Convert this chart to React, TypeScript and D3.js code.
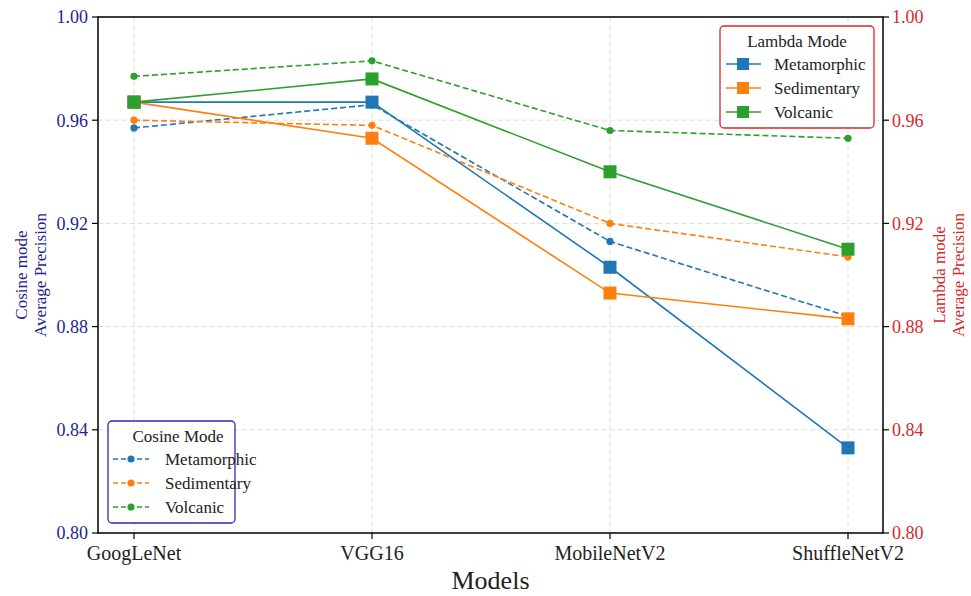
import React from "react";
import * as d3 from "d3";

const models = ["GoogLeNet", "VGG16", "MobileNetV2", "ShuffleNetV2"];
const seriesNames = ["Metamorphic", "Sedimentary", "Volcanic"];
const lambdaMetamorphic = [0.967, 0.967, 0.903, 0.833];
const lambdaSedimentary = [0.967, 0.953, 0.893, 0.883];
const lambdaVolcanic = [0.967, 0.976, 0.94, 0.91];
const cosineMetamorphic = [0.957, 0.966, 0.913, 0.884];
const cosineSedimentary = [0.96, 0.958, 0.92, 0.907];
const cosineVolcanic = [0.977, 0.983, 0.956, 0.953];
const yTicks = [0.8, 0.84, 0.88, 0.92, 0.96, 1.0];

const colors = ["#1f77b4", "#ff7f0e", "#2ca02c"];
const lambdaData = [lambdaMetamorphic, lambdaSedimentary, lambdaVolcanic];
const cosineData = [cosineMetamorphic, cosineSedimentary, cosineVolcanic];

const W = 971, H = 596;
const M = { left: 98, right: 883, top: 17, bottom: 533 };
const FONT = "'Liberation Serif', 'DejaVu Serif', serif";
const NAVY = "#1f1f8f";
const RED = "#d42a2a";

export default function App() {
  const x = d3.scalePoint<string>().domain(models).range([134, 848]);
  const y = d3.scaleLinear().domain([0.8, 1.0]).range([M.bottom, M.top]);
  const line = d3
    .line<number>()
    .x((_, i) => x(models[i]) as number)
    .y((d) => y(d));

  return (
    <svg width={W} height={H} style={{ position: "absolute", left: 0, top: 0 }} fontFamily={FONT}>
      <rect x={0} y={0} width={W} height={H} fill="#fff" />
      {yTicks.map((t) => (
        <line key={"gy" + t} x1={M.left} x2={M.right} y1={y(t)} y2={y(t)} stroke="#dcdcdc" strokeDasharray="5,3" strokeWidth={1} />
      ))}
      {models.map((m) => (
        <line key={"gx" + m} x1={x(m)} x2={x(m)} y1={M.top} y2={M.bottom} stroke="#dcdcdc" strokeDasharray="5,3" strokeWidth={1} />
      ))}
      {cosineData.map((d, i) => (
        <g key={"c" + i}>
          <path d={line(d) || ""} fill="none" stroke={colors[i]} strokeWidth={1.6} strokeDasharray="6,3" />
          {d.map((v, j) => (
            <circle key={j} cx={x(models[j])} cy={y(v)} r={3.6} fill={colors[i]} />
          ))}
        </g>
      ))}
      {lambdaData.map((d, i) => (
        <g key={"l" + i}>
          <path d={line(d) || ""} fill="none" stroke={colors[i]} strokeWidth={1.6} />
          {d.map((v, j) => (
            <rect key={j} x={(x(models[j]) as number) - 6.5} y={y(v) - 6.5} width={13} height={13} fill={colors[i]} />
          ))}
        </g>
      ))}
      <rect x={M.left} y={M.top} width={M.right - M.left} height={M.bottom - M.top} fill="none" stroke="#000" strokeWidth={1.5} />
      {yTicks.map((t) => (
        <g key={"lt" + t}>
          <line x1={M.left - 6} x2={M.left} y1={y(t)} y2={y(t)} stroke="#000" strokeWidth={1.2} />
          <text x={M.left - 10} y={y(t)} dy="0.35em" textAnchor="end" fontSize={18} fill={NAVY}>
            {t.toFixed(2)}
          </text>
          <line x1={M.right} x2={M.right + 6} y1={y(t)} y2={y(t)} stroke="#000" strokeWidth={1.2} />
          <text x={M.right + 9} y={y(t)} dy="0.35em" textAnchor="start" fontSize={18} fill={RED}>
            {t.toFixed(2)}
          </text>
        </g>
      ))}
      {models.map((m) => (
        <g key={"xt" + m}>
          <line x1={x(m)} x2={x(m)} y1={M.bottom} y2={M.bottom + 6} stroke="#000" strokeWidth={1.2} />
          <text x={x(m)} y={M.bottom + 27} textAnchor="middle" fontSize={20} fill="#222">
            {m}
          </text>
        </g>
      ))}
      <text x={(M.left + M.right) / 2} y={589} textAnchor="middle" fontSize={26} fill="#222">
        Models
      </text>
      <text transform="translate(27,275) rotate(-90)" textAnchor="middle" fontSize={17} fill={NAVY}>
        <tspan x={0} dy={0}>Cosine mode</tspan>
        <tspan x={0} dy={18.5}>Average Precision</tspan>
      </text>
      <text transform="translate(945,275) rotate(-90)" textAnchor="middle" fontSize={17} fill={RED}>
        <tspan x={0} dy={0}>Lambda mode</tspan>
        <tspan x={0} dy={18.5}>Average Precision</tspan>
      </text>
      <g>
        <rect x={720} y={26} width={154} height={102} rx={4} fill="#fff" fillOpacity={0.85} stroke={RED} strokeWidth={1.3} />
        <text x={797} y={47} textAnchor="middle" fontSize={17} fill="#222">Lambda Mode</text>
        {seriesNames.map((s, i) => (
          <g key={"ll" + s}>
            <line x1={726} x2={761} y1={64 + i * 24} y2={64 + i * 24} stroke={colors[i]} strokeWidth={1.6} />
            <rect x={737} y={58 + i * 24} width={12} height={12} fill={colors[i]} />
            <text x={774} y={64 + i * 24} dy="0.35em" fontSize={17} fill="#222">{s}</text>
          </g>
        ))}
      </g>
      <g>
        <rect x={108} y={421} width={127} height={102} rx={4} fill="#fff" fillOpacity={0.85} stroke="#2b2bb0" strokeWidth={1.3} />
        <text x={178} y={442} textAnchor="middle" fontSize={17} fill="#222">Cosine Mode</text>
        {seriesNames.map((s, i) => (
          <g key={"cl" + s}>
            <line x1={113} x2={149} y1={459 + i * 24} y2={459 + i * 24} stroke={colors[i]} strokeWidth={1.6} strokeDasharray="5,3" />
            <circle cx={131} cy={459 + i * 24} r={3.6} fill={colors[i]} />
            <text x={165} y={459 + i * 24} dy="0.35em" fontSize={17} fill="#222">{s}</text>
          </g>
        ))}
      </g>
    </svg>
  );
}
